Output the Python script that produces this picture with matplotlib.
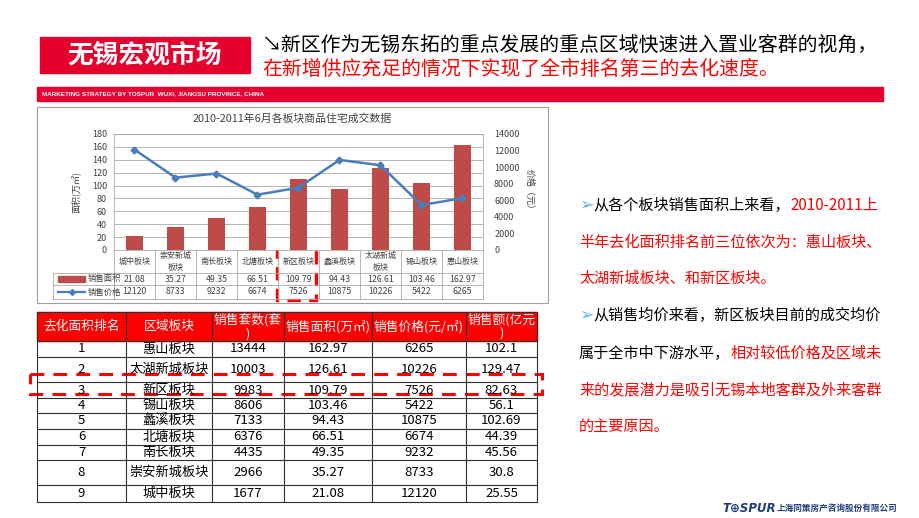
import matplotlib
matplotlib.use("Agg")
import matplotlib.pyplot as plt
from matplotlib.patches import Rectangle
from matplotlib.transforms import blended_transform_factory

plt.rcParams['font.family'] = ['Noto Sans CJK SC', 'DejaVu Sans']

# ---- chart data ----
chart_title = '2010-2011年6月各板块商品住宅成交数据'
districts = ['城中板块', '崇安新城\n板块', '南长板块', '北塘板块', '新区板块',
             '蠡溪板块', '太湖新城\n板块', '锡山板块', '惠山板块']
sale_area = [21.08, 35.27, 49.35, 66.51, 109.79, 94.43, 126.61, 103.46, 162.97]
sale_price = [12120, 8733, 9232, 6674, 7526, 10875, 10226, 5422, 6265]
area_ticks = list(range(0, 181, 20))
price_ticks = list(range(0, 14001, 2000))
highlight_idx = 4

# ---- table data ----
table_header = ['去化面积排名', '区域板块', '销售套数(套\n)', '销售面积(万㎡)',
                '销售价格(元/㎡)', '销售额(亿元\n)']
rank = [1, 2, 3, 4, 5, 6, 7, 8, 9]
region = ['惠山板块', '太湖新城板块', '新区板块', '锡山板块', '蠡溪板块',
          '北塘板块', '南长板块', '崇安新城板块', '城中板块']
units = [13444, 10003, 9983, 8606, 7133, 6376, 4435, 2966, 1677]
area_str = ['162.97', '126.61', '109.79', '103.46', '94.43', '66.51', '49.35', '35.27', '21.08']
price_str = ['6265', '10226', '7526', '5422', '10875', '6674', '9232', '8733', '12120']
amount_str = ['102.1', '129.47', '82.63', '56.1', '102.69', '44.39', '45.56', '30.8', '25.55']

RED = '#E60030'
BAR = '#BE4B48'
BLUE = '#4A7EBB'
GRAY = '#404040'

fig = plt.figure(figsize=(9.2, 5.18), dpi=100, facecolor='white')
base = fig.add_axes([0, 0, 1, 1])
base.set_xlim(0, 920)
base.set_ylim(518, 0)
base.axis('off')
renderer = fig.canvas.get_renderer()

# ---- header ----
base.add_patch(Rectangle((40, 37), 210, 36, color='#E5002D'))
base.text(145, 55, '无锡宏观市场', color='white', fontsize=18.5, fontweight='bold',
          ha='center', va='center')
base.text(262, 45, '↘新区作为无锡东拓的重点发展的重点区域快速进入置业客群的视角，',
          fontsize=14.3, color='black', ha='left', va='center')
base.text(262, 69, '在新增供应充足的情况下实现了全市排名第三的去化速度。',
          fontsize=14.3, color='#FF0000', ha='left', va='center')
base.add_patch(Rectangle((37, 87), 846, 14, color=RED))
base.text(42, 94, 'MARKETING STRATEGY BY TOSPUR  WUXI, JIANGSU PROVINCE, CHINA',
          color='white', fontsize=4.6, fontweight='bold', family='Liberation Sans',
          ha='left', va='center')

# ---- chart ----
base.add_patch(Rectangle((37, 107), 511, 196, fill=False, edgecolor='#A0A0A0', lw=0.8))
base.text(292, 119, chart_title, fontsize=7.8, color=GRAY, ha='center', va='center')

ax = fig.add_axes([114 / 920, 1 - 250 / 518, (483 - 114) / 920, (250 - 134) / 518])
x = list(range(len(districts)))
ax.bar(x, sale_area, width=0.4, color=BAR, zorder=2)
ax.set_xlim(-0.5, len(districts) - 0.5)
ax.set_ylim(0, 180)
ax.set_yticks(area_ticks)
ax.set_xticks([])
ax.yaxis.grid(True, color='#A8A8A8', lw=0.6, zorder=0)
ax.set_axisbelow(True)
ax.tick_params(axis='y', length=0, labelsize=6.5, labelcolor=GRAY, pad=5)
for s in ax.spines.values():
    s.set_color('#A8A8A8')
    s.set_linewidth(0.6)
ax.set_ylabel('面积(万㎡)', fontsize=6.5, color=GRAY, labelpad=7)

ax2 = ax.twinx()
ax2.plot(x, sale_price, color=BLUE, lw=1.8, marker='D', markersize=3.5, zorder=3)
ax2.set_ylim(0, 14000)
ax2.set_yticks(price_ticks)
ax2.tick_params(axis='y', length=0, labelsize=6.5, labelcolor=GRAY, pad=8)
for s in ax2.spines.values():
    s.set_visible(False)
ax2.set_ylabel('价格（元）', fontsize=6.5, color=GRAY, rotation=-90, labelpad=10)

# chart data table
tr = blended_transform_factory(ax.transData, base.transData)
lc = '#A8A8A8'
n = len(districts)
for k in range(n + 1):
    base.plot([k - 0.5, k - 0.5], [250, 299], color=lc, lw=0.6, transform=tr)
for yy in (273, 285, 299):
    base.plot([53, 483], [yy, yy], color=lc, lw=0.6)
base.plot([53, 53], [273, 299], color=lc, lw=0.6)
for i in range(n):
    base.text(i, 261.5, districts[i], fontsize=5.8, color=GRAY, ha='center', va='center',
              linespacing=1.5, transform=tr)
    base.text(i, 279, f'{sale_area[i]:.2f}', fontsize=6.3, color=GRAY, ha='center',
              va='center', transform=tr)
    base.text(i, 292, str(sale_price[i]), fontsize=6.3, color=GRAY, ha='center',
              va='center', transform=tr)
base.add_patch(Rectangle((58, 276), 27, 6, color=BAR))
base.text(88, 279, '销售面积', fontsize=6, color=GRAY, ha='left', va='center')
base.plot([58, 85], [292, 292], color=BLUE, lw=1.6)
base.plot([72], [292], marker='D', markersize=3, color=BLUE)
base.text(88, 292, '销售价格', fontsize=6, color=GRAY, ha='left', va='center')

# highlight box in chart
base.add_patch(Rectangle((highlight_idx - 0.52, 138), 0.95, 162, transform=tr, fill=False,
                         edgecolor='#FF0000', lw=2.4, linestyle=(0, (4, 2.5))))

# ---- ranking table ----
col_x = [37, 126, 212, 284, 372, 466, 537]
row_y = [312, 341, 357, 382, 398, 413, 429, 445, 460, 485, 502]
base.add_patch(Rectangle((col_x[0], row_y[0]), col_x[-1] - col_x[0], row_y[1] - row_y[0],
                         color='#FF0000'))
for cx in col_x:
    base.plot([cx, cx], [row_y[0], row_y[-1]], color='#303030', lw=0.8)
for ry in row_y:
    base.plot([col_x[0], col_x[-1]], [ry, ry], color='#303030', lw=0.8)
for j, h in enumerate(table_header):
    cx = (col_x[j] + col_x[j + 1]) / 2
    base.text(cx, (row_y[0] + row_y[1]) / 2, h, color='white', fontsize=9.2,
              ha='center', va='center', linespacing=1.05)
rows = list(zip(rank, region, units, area_str, price_str, amount_str))
for r, vals in enumerate(rows):
    cy = (row_y[r + 1] + row_y[r + 2]) / 2
    for j, v in enumerate(vals):
        cx = (col_x[j] + col_x[j + 1]) / 2
        base.text(cx, cy, str(v), color='black', fontsize=9.5, ha='center', va='center')

base.add_patch(Rectangle((30, 374), 512, 20, fill=False, edgecolor='#FF0000', lw=2.2,
                         linestyle=(0, (4.5, 3))))

# ---- right text ----
bullet_c = '#5BB5E8'
lines = [
    [('➢', bullet_c), ('从各个板块销售面积上来看，', 'black'), ('2010-2011上', '#FF0000')],
    [('半年去化面积排名前三位依次为：惠山板块、', '#FF0000')],
    [('太湖新城板块、和新区板块。', '#FF0000')],
    [('➢', bullet_c), ('从销售均价来看，新区板块目前的成交均价', 'black')],
    [('属于全市中下游水平，', 'black'), ('相对较低价格及区域未', '#FF0000')],
    [('来的发展潜力是吸引无锡本地客群及外来客群', '#FF0000')],
    [('的主要原因。', '#FF0000')],
]
line_y = [205, 242, 278, 315, 353, 390, 427]
for segs, ly in zip(lines, line_y):
    xx = 579
    for txt, col in segs:
        fs = 12.5 if txt == '➢' else 10.9
        t = base.text(xx, ly, txt, color=col, fontsize=fs, ha='left', va='center')
        bb = t.get_window_extent(renderer=renderer)
        xx = bb.x1

# ---- logo ----
t = base.text(722, 508, 'T⊕SPUR', color='#1F3C7A', fontsize=8.5, fontweight='bold',
              fontstyle='italic', family='DejaVu Sans', ha='left', va='center')
bb = t.get_window_extent(renderer=renderer)
base.text(bb.x1 + 1, 508, '上海同策房产咨询股份有限公司', color='#1F3C7A', fontsize=6.2,
          fontweight='bold', ha='left', va='center')

fig.savefig('out.png', dpi=100, facecolor='white')
